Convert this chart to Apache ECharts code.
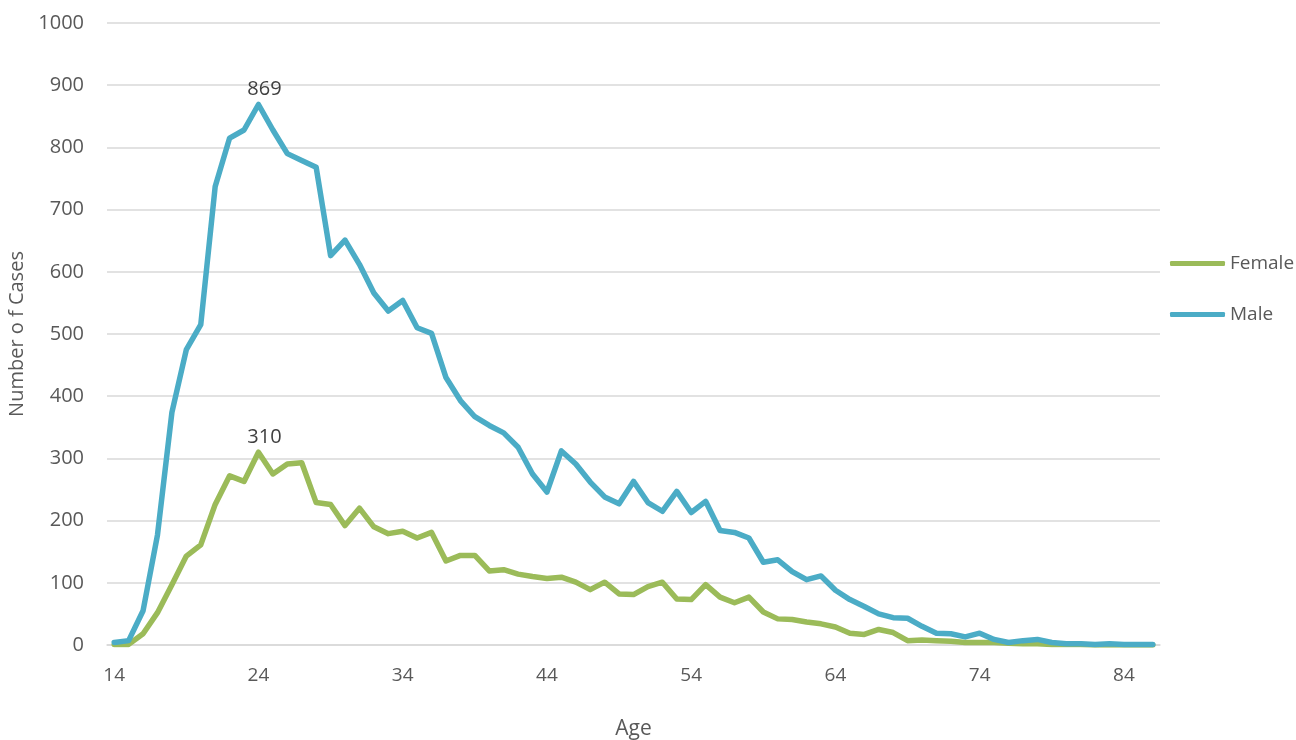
<!DOCTYPE html>
<html>
<head>
<meta charset="utf-8">
<script src="https://cdn.jsdelivr.net/npm/echarts@6/dist/echarts.min.js"></script>
<style>
html,body{margin:0;padding:0;background:#fff;}
#chart{width:1296px;height:740px;}
</style>
</head>
<body>
<div id="chart"></div>
<script>
const ages = [];
for (let a = 14; a <= 86; a++) ages.push(String(a));

const female = [1,1,18,52,97,143,161,226,272,263,310,275,291,293,229,226,192,220,190,179,
  183,172,181,135,144,144,119,121,114,110,107,109,101,89,101,82,81,94,101,74,
  73,97,77,68,77,53,42,41,37,34,29,19,17,25,20,7,8,7,6,4,
  4,4,3,2,2,1,1,1,0,0,0,0,0];
const male = [4,7,55,177,374,475,515,737,815,828,869,828,790,779,768,626,651,612,566,537,
  554,510,501,430,393,367,353,341,318,275,246,312,291,262,238,227,263,229,215,247,
  213,231,184,181,172,133,137,118,105,111,88,73,62,50,44,43,30,19,18,13,
  19,9,4,7,9,4,2,2,1,2,1,1,1];

const seriesNames = ['Female', 'Male'];
const peakIndex = 10; // age 24

const chart = echarts.init(document.getElementById('chart'));
const font = 'Open Sans, sans-serif';
const grey = '#595959';

chart.setOption({
  animation: false,
  grid: { left: 107, right: 136, top: 23, bottom: 95, containLabel: false, outerBoundsMode: 'none' },
  legend: {
    orient: 'vertical',
    left: 1165,
    top: 249,
    icon: 'roundRect',
    itemWidth: 55,
    itemHeight: 5,
    itemGap: 32,
    data: seriesNames,
    textStyle: { fontSize: 19, color: grey, fontFamily: font }
  },
  xAxis: {
    type: 'category',
    data: ages,
    boundaryGap: true,
    name: 'Age',
    nameLocation: 'middle',
    nameGap: 74,
    nameTextStyle: { fontSize: 21, color: grey, fontFamily: font },
    axisLine: { lineStyle: { color: '#D9D9D9', width: 1.5 } },
    axisTick: { show: false },
    axisLabel: { interval: 9, margin: 21, fontSize: 19, color: grey, fontFamily: font }
  },
  yAxis: {
    type: 'value',
    min: 0, max: 1000, interval: 100,
    name: 'Number o f Cases',
    nameLocation: 'middle',
    nameGap: 64,
    nameTextStyle: { fontSize: 20, color: grey, fontFamily: font },
    axisLine: { show: false },
    axisTick: { show: false },
    axisLabel: { margin: 23, fontSize: 20, color: grey, fontFamily: font, formatter: v => String(v) },
    splitLine: { lineStyle: { color: '#D9D9D9', width: 1.5 } }
  },
  series: [
    {
      name: 'Female', type: 'line', data: female,
      showSymbol: false, symbol: 'none',
      lineStyle: { color: '#9BBB59', width: 5.5, cap: 'round', join: 'round' },
      itemStyle: { color: '#9BBB59' },
      markPoint: {
        symbol: 'circle', symbolSize: 0,
        data: [{ coord: [peakIndex, female[peakIndex]], value: female[peakIndex] }],
        label: { show: true, position: 'top', distance: 5, offset: [6, 0], fontSize: 20, color: '#404040', fontFamily: font }
      }
    },
    {
      name: 'Male', type: 'line', data: male,
      showSymbol: false, symbol: 'none',
      lineStyle: { color: '#4BACC6', width: 5.5, cap: 'round', join: 'round' },
      itemStyle: { color: '#4BACC6' },
      markPoint: {
        symbol: 'circle', symbolSize: 0,
        data: [{ coord: [peakIndex, male[peakIndex]], value: male[peakIndex] }],
        label: { show: true, position: 'top', distance: 5, offset: [6, 0], fontSize: 20, color: '#404040', fontFamily: font }
      }
    }
  ]
});
</script>
</body>
</html>
